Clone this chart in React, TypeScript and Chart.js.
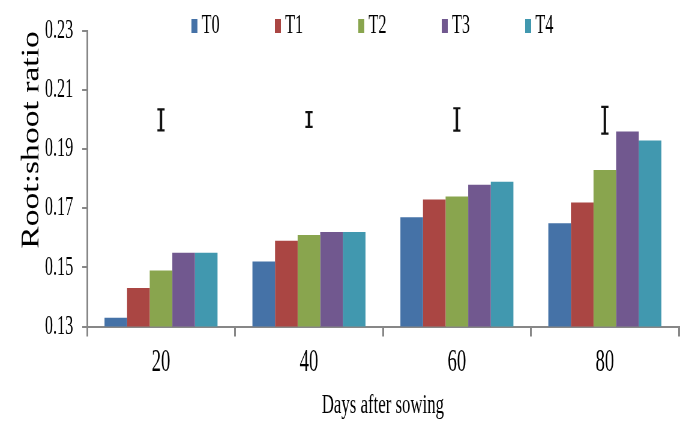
import { useEffect, useRef } from 'react';
import { Chart, registerables } from 'chart.js';

Chart.register(...registerables);

// ---- data ----
const categories = ['20', '40', '60', '80'];
const seriesNames = ['T0', 'T1', 'T2', 'T3', 'T4'];
const t0 = [0.133, 0.152, 0.167, 0.165];
const t1 = [0.143, 0.159, 0.173, 0.172];
const t2 = [0.149, 0.161, 0.174, 0.183];
const t3 = [0.155, 0.162, 0.178, 0.196];
const t4 = [0.155, 0.162, 0.179, 0.193];
const lsdTop = [0.2035, 0.2026, 0.2039, 0.2044];
const lsdBottom = [0.1964, 0.1976, 0.1963, 0.1953];
const yTicks = [0.13, 0.15, 0.17, 0.19, 0.21, 0.23];
const colors = ['#4572A7', '#AA4643', '#89A54E', '#71588F', '#4198AF'];
const yTitle = 'Root:shoot ratio';
const xTitle = 'Days after sowing';

const seriesValues = [t0, t1, t2, t3, t4];

// canvas is drawn wider and shown horizontally condensed (the reference is condensed)
const SCREEN_W = 683;
const SCREEN_H = 422;
const CANVAS_W = 1138;
const FONT = 'Liberation Serif, Times New Roman, serif';
const AXIS = '#878787';

const errorBarPlugin = {
  id: 'lsdBars',
  afterDatasetsDraw(chart: any) {
    const { ctx } = chart;
    const xs = chart.scales.x;
    const ys = chart.scales.y;
    ctx.save();
    ctx.strokeStyle = '#111';
    lsdTop.forEach((top, i) => {
      const px = xs.getPixelForValue(i);
      const pt = ys.getPixelForValue(top);
      const pb = ys.getPixelForValue(lsdBottom[i]);
      ctx.lineWidth = 4;
      ctx.beginPath();
      ctx.moveTo(px, pt);
      ctx.lineTo(px, pb);
      ctx.stroke();
      ctx.lineWidth = 2.2;
      ctx.beginPath();
      ctx.moveTo(px - 6, pt);
      ctx.lineTo(px + 6, pt);
      ctx.moveTo(px - 6, pb);
      ctx.lineTo(px + 6, pb);
      ctx.stroke();
    });
    ctx.restore();
  },
};

const legendPlugin = {
  id: 'topLegend',
  afterDraw(chart: any) {
    const { ctx, chartArea } = chart;
    const cx = (chartArea.left + chartArea.right) / 2;
    ctx.save();
    ctx.font = `27px ${FONT}`;
    ctx.textBaseline = 'alphabetic';
    ctx.textAlign = 'left';
    chart.data.datasets.forEach((ds: any, i: number) => {
      const bx = cx + (i - 2) * 139 - 41;
      ctx.fillStyle = ds.backgroundColor;
      ctx.fillRect(bx, 19, 10, 14);
      ctx.fillStyle = '#000';
      ctx.fillText(ds.label, bx + 17, 33);
    });
    ctx.restore();
  },
};

// y-axis title, drawn rotated with its own proportions (wider glyphs than the rest)
const yTitlePlugin = {
  id: 'yTitle',
  afterDraw(chart: any) {
    const { ctx, chartArea } = chart;
    ctx.save();
    ctx.translate(64, chartArea.top);
    ctx.rotate(-Math.PI / 2);
    ctx.scale(0.8, 1);
    ctx.font = `42px ${FONT}`;
    ctx.fillStyle = '#000';
    ctx.textAlign = 'right';
    ctx.textBaseline = 'alphabetic';
    ctx.fillText(yTitle, 0, 0);
    ctx.restore();
  },
};

export default function App() {
  const ref = useRef<HTMLCanvasElement | null>(null);

  useEffect(() => {
    if (!ref.current) return;
    const chart = new Chart(ref.current, {
      type: 'bar',
      data: {
        labels: categories,
        datasets: seriesNames.map((name, i) => ({
          label: name,
          data: seriesValues[i],
          backgroundColor: colors[i],
          borderWidth: 0,
          categoryPercentage: 0.764,
          barPercentage: 1,
        })),
      },
      options: {
        responsive: false,
        devicePixelRatio: 1,
        animation: false,
        layout: { padding: { top: 27, right: 7, bottom: 0, left: 0 } },
        plugins: {
          legend: { display: false },
          tooltip: { enabled: false },
        },
        scales: {
          x: {
            grid: {
              offset: true,
              drawOnChartArea: false,
              drawTicks: true,
              tickLength: 10,
              color: AXIS,
              lineWidth: 3,
            },
            border: { color: AXIS, width: 2 },
            ticks: {
              color: '#000',
              font: { family: FONT, size: 31 },
              padding: 8,
              maxRotation: 0,
            },
            title: {
              display: true,
              text: xTitle,
              color: '#000',
              font: { family: FONT, size: 28, lineHeight: 1.2 },
              padding: { top: 0, bottom: 0 },
            },
            afterFit: (s: any) => {
              s.height = 95.5;
            },
          },
          y: {
            min: 0.13,
            max: 0.23,
            afterBuildTicks: (s: any) => {
              s.ticks = yTicks.map((v) => ({ value: v }));
            },
            ticks: {
              color: '#000',
              font: { family: FONT, size: 27 },
              padding: 15,
              callback: (v: any) => Number(v).toFixed(2),
            },
            grid: {
              drawOnChartArea: false,
              drawTicks: true,
              tickLength: 8,
              color: AXIS,
              lineWidth: 2,
            },
            border: { color: AXIS, width: 3 },
            title: { display: false },
            afterFit: (s: any) => {
              s.width = 145;
            },
          },
        },
      },
      plugins: [errorBarPlugin, legendPlugin, yTitlePlugin],
    } as any);
    return () => chart.destroy();
  }, []);

  return (
    <div
      style={{
        position: 'fixed',
        left: 0,
        top: 0,
        width: SCREEN_W,
        height: SCREEN_H,
        overflow: 'hidden',
        background: '#fff',
      }}
    >
      <canvas
        ref={ref}
        width={CANVAS_W}
        height={SCREEN_H}
        style={{ width: `${SCREEN_W}px`, height: `${SCREEN_H}px`, display: 'block' }}
      />
    </div>
  );
}
